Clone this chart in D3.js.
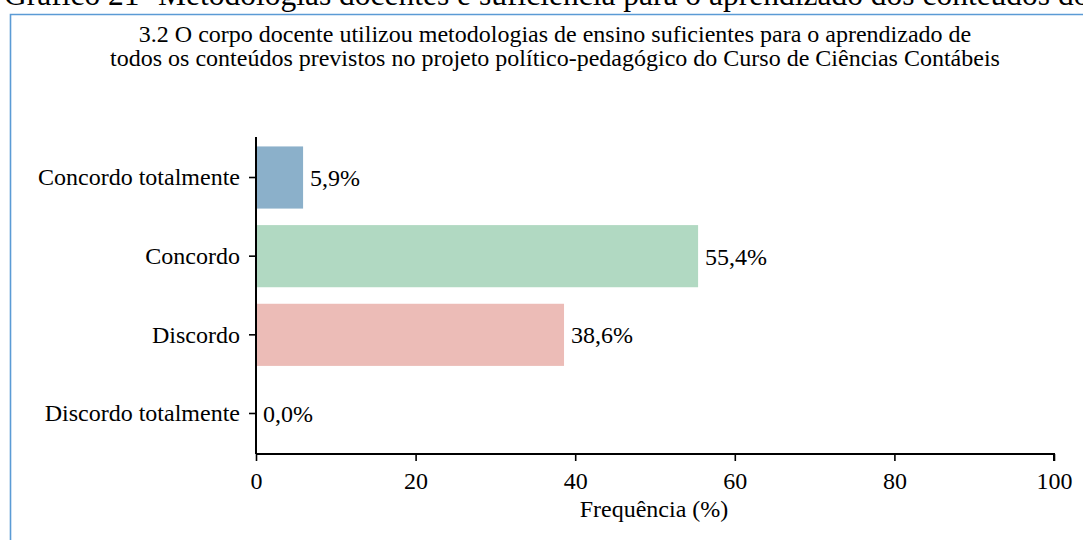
<!DOCTYPE html>
<html>
<head>
<meta charset="utf-8">
<script src="https://cdn.jsdelivr.net/npm/d3@7"></script>
<style>
  body { margin: 0; background: #fff; }
  svg { display: block; font-family: "Liberation Serif", "Times New Roman", serif; }
</style>
</head>
<body>
<svg id="chart" width="1083" height="540"></svg>
<script>
// dados do grafico
var categorias = ["Concordo totalmente", "Concordo", "Discordo", "Discordo totalmente"];
var valores = [5.9, 55.4, 38.6, 0.0];
var cores = ["#8bb0ca", "#b1d9c2", "#ecbcb7", "#8bb0ca"];
var ticksX = [0, 20, 40, 60, 80, 100];
var titulo = [
  "3.2 O corpo docente utilizou metodologias de ensino suficientes para o aprendizado de",
  "todos os conteúdos previstos no projeto político-pedagógico do Curso de Ciências Contábeis"
];
var cabecalho = "Gráfico 21- Metodologias docentes e suficiência para o aprendizado dos conteúdos do";

const svg = d3.select("#chart");

// cabeçalho cortado no topo
svg.append("text")
  .attr("x", 4)
  .attr("y", 5)
  .attr("font-size", "31.5px")
  .attr("fill", "#000")
  .text(cabecalho);

// moldura azul
svg.append("path")
  .attr("d", "M10.5,540 L10.5,14.5 L1083,14.5")
  .attr("fill", "none")
  .attr("stroke", "#5b9bd5")
  .attr("stroke-width", 1.6);

// titulo
svg.selectAll(".titulo")
  .data(titulo)
  .enter().append("text")
  .attr("class", "titulo")
  .attr("x", 555)
  .attr("y", function(d, i){ return 42 + i * 24; })
  .attr("text-anchor", "middle")
  .attr("font-size", "24px")
  .text(function(d){ return d; });

const x = d3.scaleLinear()
  .domain([0, 100])
  .range([256, 1054]);

const y = d3.scaleBand()
  .domain(categorias)
  .range([137, 454])
  .paddingInner(0.21)
  .paddingOuter(0.12);

// barras
svg.selectAll("rect")
  .data(valores)
  .enter().append("rect")
  .attr("x", x(0))
  .attr("y", function(d, i){ return y(categorias[i]); })
  .attr("width", function(d){ return x(d) - x(0); })
  .attr("height", y.bandwidth())
  .attr("fill", function(d, i){ return cores[i]; });

// rotulos de valor
svg.selectAll(".valor")
  .data(valores)
  .enter().append("text")
  .attr("class", "valor")
  .attr("x", function(d){ return x(d) + 7; })
  .attr("y", function(d, i){ return y(categorias[i]) + y.bandwidth() / 2; })
  .attr("dy", "0.35em")
  .attr("font-size", "24px")
  .text(function(d){ return d.toFixed(1).replace(".", ",") + "%"; });

// eixo x
const eixoX = svg.append("g")
  .attr("transform", "translate(0,454)")
  .call(d3.axisBottom(x).tickValues(ticksX).tickSize(7).tickPadding(11));
eixoX.select(".domain").attr("stroke-width", 2).attr("d", "M256,0H1054V7");
eixoX.selectAll(".tick line").attr("stroke-width", 1.6);
eixoX.selectAll("text").attr("font-size", "24px").attr("font-family", "Liberation Serif");

// eixo y
const eixoY = svg.append("g")
  .attr("transform", "translate(256,0)")
  .call(d3.axisLeft(y).tickSize(7).tickPadding(9));
eixoY.select(".domain").attr("stroke-width", 2).attr("d", "M0,137V454");
eixoY.selectAll(".tick line").attr("stroke-width", 1.6);
eixoY.selectAll("text").attr("font-size", "24px").attr("font-family", "Liberation Serif");

// rotulo eixo x
svg.append("text")
  .attr("x", 654)
  .attr("y", 517)
  .attr("text-anchor", "middle")
  .attr("font-size", "24px")
  .text("Frequência (%)");
</script>
</body>
</html>
